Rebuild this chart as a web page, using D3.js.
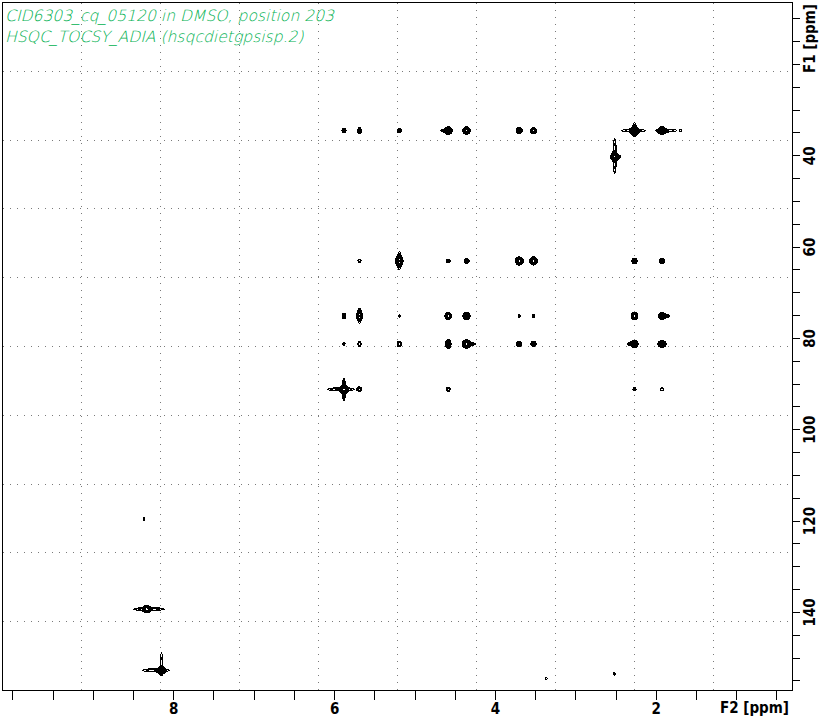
<!DOCTYPE html>
<html>
<head>
<meta charset="utf-8">
<script src="https://cdn.jsdelivr.net/npm/d3@7"></script>
<style>
html, body { margin: 0; padding: 0; background: #fff; }
svg { display: block; }
</style>
</head>
<body>
<script>
// ---------------- data ----------------
const titleLines = ["CID6303_cq_05120 in DMSO, position 203", "HSQC_TOCSY_ADIA (hsqcdietgpsisp.2)"];
const f2Domain = [10.124, 0.299];          // ppm, left -> right
const f1Domain = [6.54, 157.22];           // ppm, top -> bottom
const f2TickValues = [10, 9.5, 9, 8.5, 8, 7.5, 7, 6.5, 6, 5.5, 5, 4.5, 4, 3.5, 3, 2.5, 2, 1.5, 1, 0.5];
const f2TickLabels = [8, 6, 4, 2];
const f1TickValues = [10, 15, 20, 25, 30, 35, 40, 45, 50, 55, 60, 65, 70, 75, 80, 85, 90, 95, 100,
                      105, 110, 115, 120, 125, 130, 135, 140, 145, 150, 155];
const f1TickLabels = [40, 60, 80, 100, 120, 140];
const f2AxisTitle = "F2 [ppm]";
const f1AxisTitle = "F1 [ppm]";

// cross peaks: [F2 ppm, F1 ppm, relative height, sigma F2 (ppm), sigma F1 (ppm)]
const peaksRow35 = [
  [5.877, 34.6, 3, 0.017, 0.33], [5.684, 34.6, 3, 0.016, 0.45], [5.189, 34.6, 3, 0.017, 0.33],
  [4.580, 34.6, 10, 0.022, 0.40], [4.353, 34.6, 10, 0.022, 0.38], [3.697, 34.6, 6, 0.021, 0.35],
  [3.520, 34.6, 6, 0.020, 0.35], [2.264, 34.6, 18, 0.022, 0.40], [1.922, 34.6, 14, 0.022, 0.38]
];
const peaksSolvent = [[2.510, 40.3, 5, 0.025, 0.45]];
const peaksRow63 = [
  [5.684, 63.15, 1.8, 0.018, 0.32], [5.189, 63.15, 9, 0.022, 0.50], [4.580, 63.15, 2.5, 0.017, 0.32],
  [4.353, 63.15, 4, 0.019, 0.35], [3.697, 63.15, 10, 0.023, 0.42], [3.520, 63.15, 10, 0.022, 0.42],
  [2.264, 63.15, 4.5, 0.020, 0.36], [1.922, 63.15, 4.5, 0.020, 0.36]
];
const peaksRow75 = [
  [5.877, 75.2, 3, 0.014, 0.45], [5.684, 75.2, 6, 0.018, 0.50], [5.189, 75.2, 1.5, 0.014, 0.30],
  [4.580, 75.2, 7, 0.022, 0.40], [4.353, 75.2, 8, 0.022, 0.40], [3.697, 75.2, 1.6, 0.016, 0.30],
  [3.520, 75.2, 1.8, 0.016, 0.30], [2.264, 75.2, 7, 0.022, 0.40], [1.922, 75.2, 8, 0.022, 0.40]
];
const peaksRow81 = [
  [5.877, 81.33, 1.6, 0.014, 0.35], [5.684, 81.33, 2.5, 0.016, 0.40], [5.189, 81.33, 3.5, 0.018, 0.40],
  [4.580, 81.33, 6, 0.018, 0.55], [4.353, 81.33, 12, 0.024, 0.42], [3.697, 81.33, 4, 0.020, 0.36],
  [3.520, 81.33, 4, 0.020, 0.36], [2.264, 81.33, 8, 0.022, 0.40], [1.922, 81.33, 8, 0.026, 0.38]
];
const peaksRow91 = [
  [5.877, 91.25, 15, 0.022, 0.40], [5.684, 91.25, 3, 0.017, 0.35], [4.580, 91.25, 2.5, 0.018, 0.35],
  [2.264, 91.25, 2, 0.017, 0.32], [1.922, 91.25, 1.8, 0.020, 0.30]
];
const peaksAromatic = [
  [8.363, 119.7, 1.5, 0.012, 0.45], [8.330, 139.4, 8, 0.022, 0.40], [8.147, 152.8, 8, 0.022, 0.40],
  [3.360, 154.6, 1.4, 0.012, 0.40], [2.517, 153.6, 1.4, 0.016, 0.30]
];
// artefact ridges (streaks) along F2 or F1
const ridges = [
  [2.278, 34.6, 2, 0.123, 0.26], [2.264, 34.4, 2, 0.016, 1.27], [1.863, 34.6, 2, 0.106, 0.26],
  [1.689, 34.6, 1.4, 0.012, 0.25], [4.610, 34.6, 2, 0.053, 0.26],
  [2.510, 40.16, 2, 0.018, 3.2], [2.491, 40.3, 2, 0.047, 0.30],
  [5.189, 63.1, 2, 0.020, 1.7], [5.684, 75.1, 2, 0.018, 1.4], [1.872, 75.2, 2, 0.042, 0.28],
  [4.297, 81.33, 2, 0.047, 0.28], [2.310, 81.33, 2, 0.037, 0.28],
  [5.914, 91.25, 2.2, 0.135, 0.28], [5.877, 91.3, 2.2, 0.016, 2.0],
  [8.302, 139.4, 2, 0.158, 0.30], [8.216, 152.8, 2, 0.139, 0.30], [8.147, 151.4, 1.7, 0.014, 2.4]
];
const contourBase = 1, contourFactor = 1.4, contourCount = 10;

// ---------------- layout ----------------
const W = 821, H = 720;
const pL = 2.5, pR = 792.5, pT = 2.5, pB = 690.5;

const svg = d3.select("body").append("svg").attr("width", W).attr("height", H);
svg.append("rect").attr("width", W).attr("height", H).attr("fill", "#fff");

const x = d3.scaleLinear().domain(f2Domain).range([pL, pR]);
const y = d3.scaleLinear().domain(f1Domain).range([pT, pB]);

// grid (10 equal divisions of the frame)
const gridG = svg.append("g").attr("stroke", "#7a7a7a").attr("stroke-width", 1)
  .attr("stroke-dasharray", "1,6").attr("shape-rendering", "crispEdges");
d3.range(1, 10).forEach(i => {
  const gxp = Math.round(pL + (pR - pL) * i / 10 - 0.5) + 0.5;
  gridG.append("line").attr("x1", gxp).attr("x2", gxp).attr("y1", pT).attr("y2", pB);
  const gyp = Math.round(pT + (pB - pT) * i / 10 - 0.5) + 0.5;
  gridG.append("line").attr("x1", pL).attr("x2", pR).attr("y1", gyp).attr("y2", gyp);
});

// ---------------- contours ----------------
const res = 2;
const gw = Math.ceil((pR - pL) * res), gh = Math.ceil((pB - pT) * res);
const values = new Float64Array(gw * gh);
const allPeaks = [].concat(peaksRow35, peaksSolvent, peaksRow63, peaksRow75, peaksRow81, peaksRow91, peaksAromatic, ridges);
allPeaks.forEach(([f2, f1, h, s2, s1]) => {
  const cx = x(f2), cy = y(f1);
  const sx = Math.abs(x(f2 + s2) - cx), sy = Math.abs(y(f1 + s1) - cy);
  const i0 = Math.max(0, Math.floor((cx - 5 * sx - pL) * res)), i1 = Math.min(gw - 1, Math.ceil((cx + 5 * sx - pL) * res));
  const j0 = Math.max(0, Math.floor((cy - 5 * sy - pT) * res)), j1 = Math.min(gh - 1, Math.ceil((cy + 5 * sy - pT) * res));
  for (let j = j0; j <= j1; j++) {
    const py = pT + (j + 0.5) / res, dy = (py - cy) / sy;
    for (let i = i0; i <= i1; i++) {
      const px = pL + (i + 0.5) / res, dx = (px - cx) / sx;
      values[j * gw + i] += h * Math.exp(-0.5 * (dx * dx + dy * dy));
    }
  }
});
const thresholds = d3.range(contourCount).map(k => contourBase * Math.pow(contourFactor, k));
const contours = d3.contours().size([gw, gh]).thresholds(thresholds)(values);
const proj = d3.geoTransform({ point(px, py) { this.stream.point(pL + px / res, pT + py / res); } });
const path = d3.geoPath(proj);
svg.append("g").attr("fill", "none").attr("stroke", "#000").attr("stroke-width", 1)
  .attr("shape-rendering", "crispEdges")
  .selectAll("path").data(contours).join("path").attr("d", path);

// ---------------- frame & axes ----------------
svg.append("rect").attr("x", pL).attr("y", pT).attr("width", pR - pL).attr("height", pB - pT)
  .attr("fill", "none").attr("stroke", "#000").attr("stroke-width", 1).attr("shape-rendering", "crispEdges");

const axisFont = "'DejaVu Sans Condensed', 'DejaVu Sans', sans-serif";

const xAxis = d3.axisBottom(x).tickValues(f2TickValues).tickSize(9).tickSizeOuter(0)
  .tickFormat(d => f2TickLabels.includes(d) ? String(d) : "");
const gX = svg.append("g").attr("transform", `translate(0,${pB})`).call(xAxis);
gX.select(".domain").remove();
gX.selectAll(".tick line").attr("stroke", "#000").attr("shape-rendering", "crispEdges");
gX.selectAll(".tick text").attr("y", 23).attr("dy", 0)
  .style("font-family", axisFont).style("font-weight", "bold").style("font-size", "15px").attr("fill", "#000");

const yAxis = d3.axisRight(y).tickValues(f1TickValues).tickSize(7).tickSizeOuter(0)
  .tickFormat(d => f1TickLabels.includes(d) ? String(d) : "");
const gY = svg.append("g").attr("transform", `translate(${pR},0)`).call(yAxis);
gY.select(".domain").remove();
gY.selectAll(".tick line").attr("stroke", "#000").attr("shape-rendering", "crispEdges");
gY.selectAll(".tick text").attr("x", 0).attr("dy", 0).attr("transform", "translate(22.5,0) rotate(-90)")
  .style("text-anchor", "middle")
  .style("font-family", axisFont).style("font-weight", "bold").style("font-size", "15px").attr("fill", "#000");

svg.append("text").attr("x", 789).attr("y", 713).attr("text-anchor", "end")
  .style("font-family", axisFont).style("font-weight", "bold").style("font-size", "15px")
  .text(f2AxisTitle);
svg.append("text").attr("transform", "translate(815,38.5) rotate(-90)").attr("text-anchor", "middle")
  .style("font-family", axisFont).style("font-weight", "bold").style("font-size", "15px")
  .text(f1AxisTitle);

// ---------------- title ----------------
svg.selectAll("text.title").data(titleLines).join("text").attr("class", "title")
  .attr("x", 5).attr("y", (d, i) => 20.7 + i * 21)
  .style("font-family", "'DejaVu Sans ExtraLight', 'DejaVu Sans Light', 'DejaVu Sans', sans-serif")
  .style("font-style", "oblique")
  .style("font-weight", 200).style("font-size", "15.6px").attr("fill", "#00b050")
  .text(d => d);
</script>
</body>
</html>
